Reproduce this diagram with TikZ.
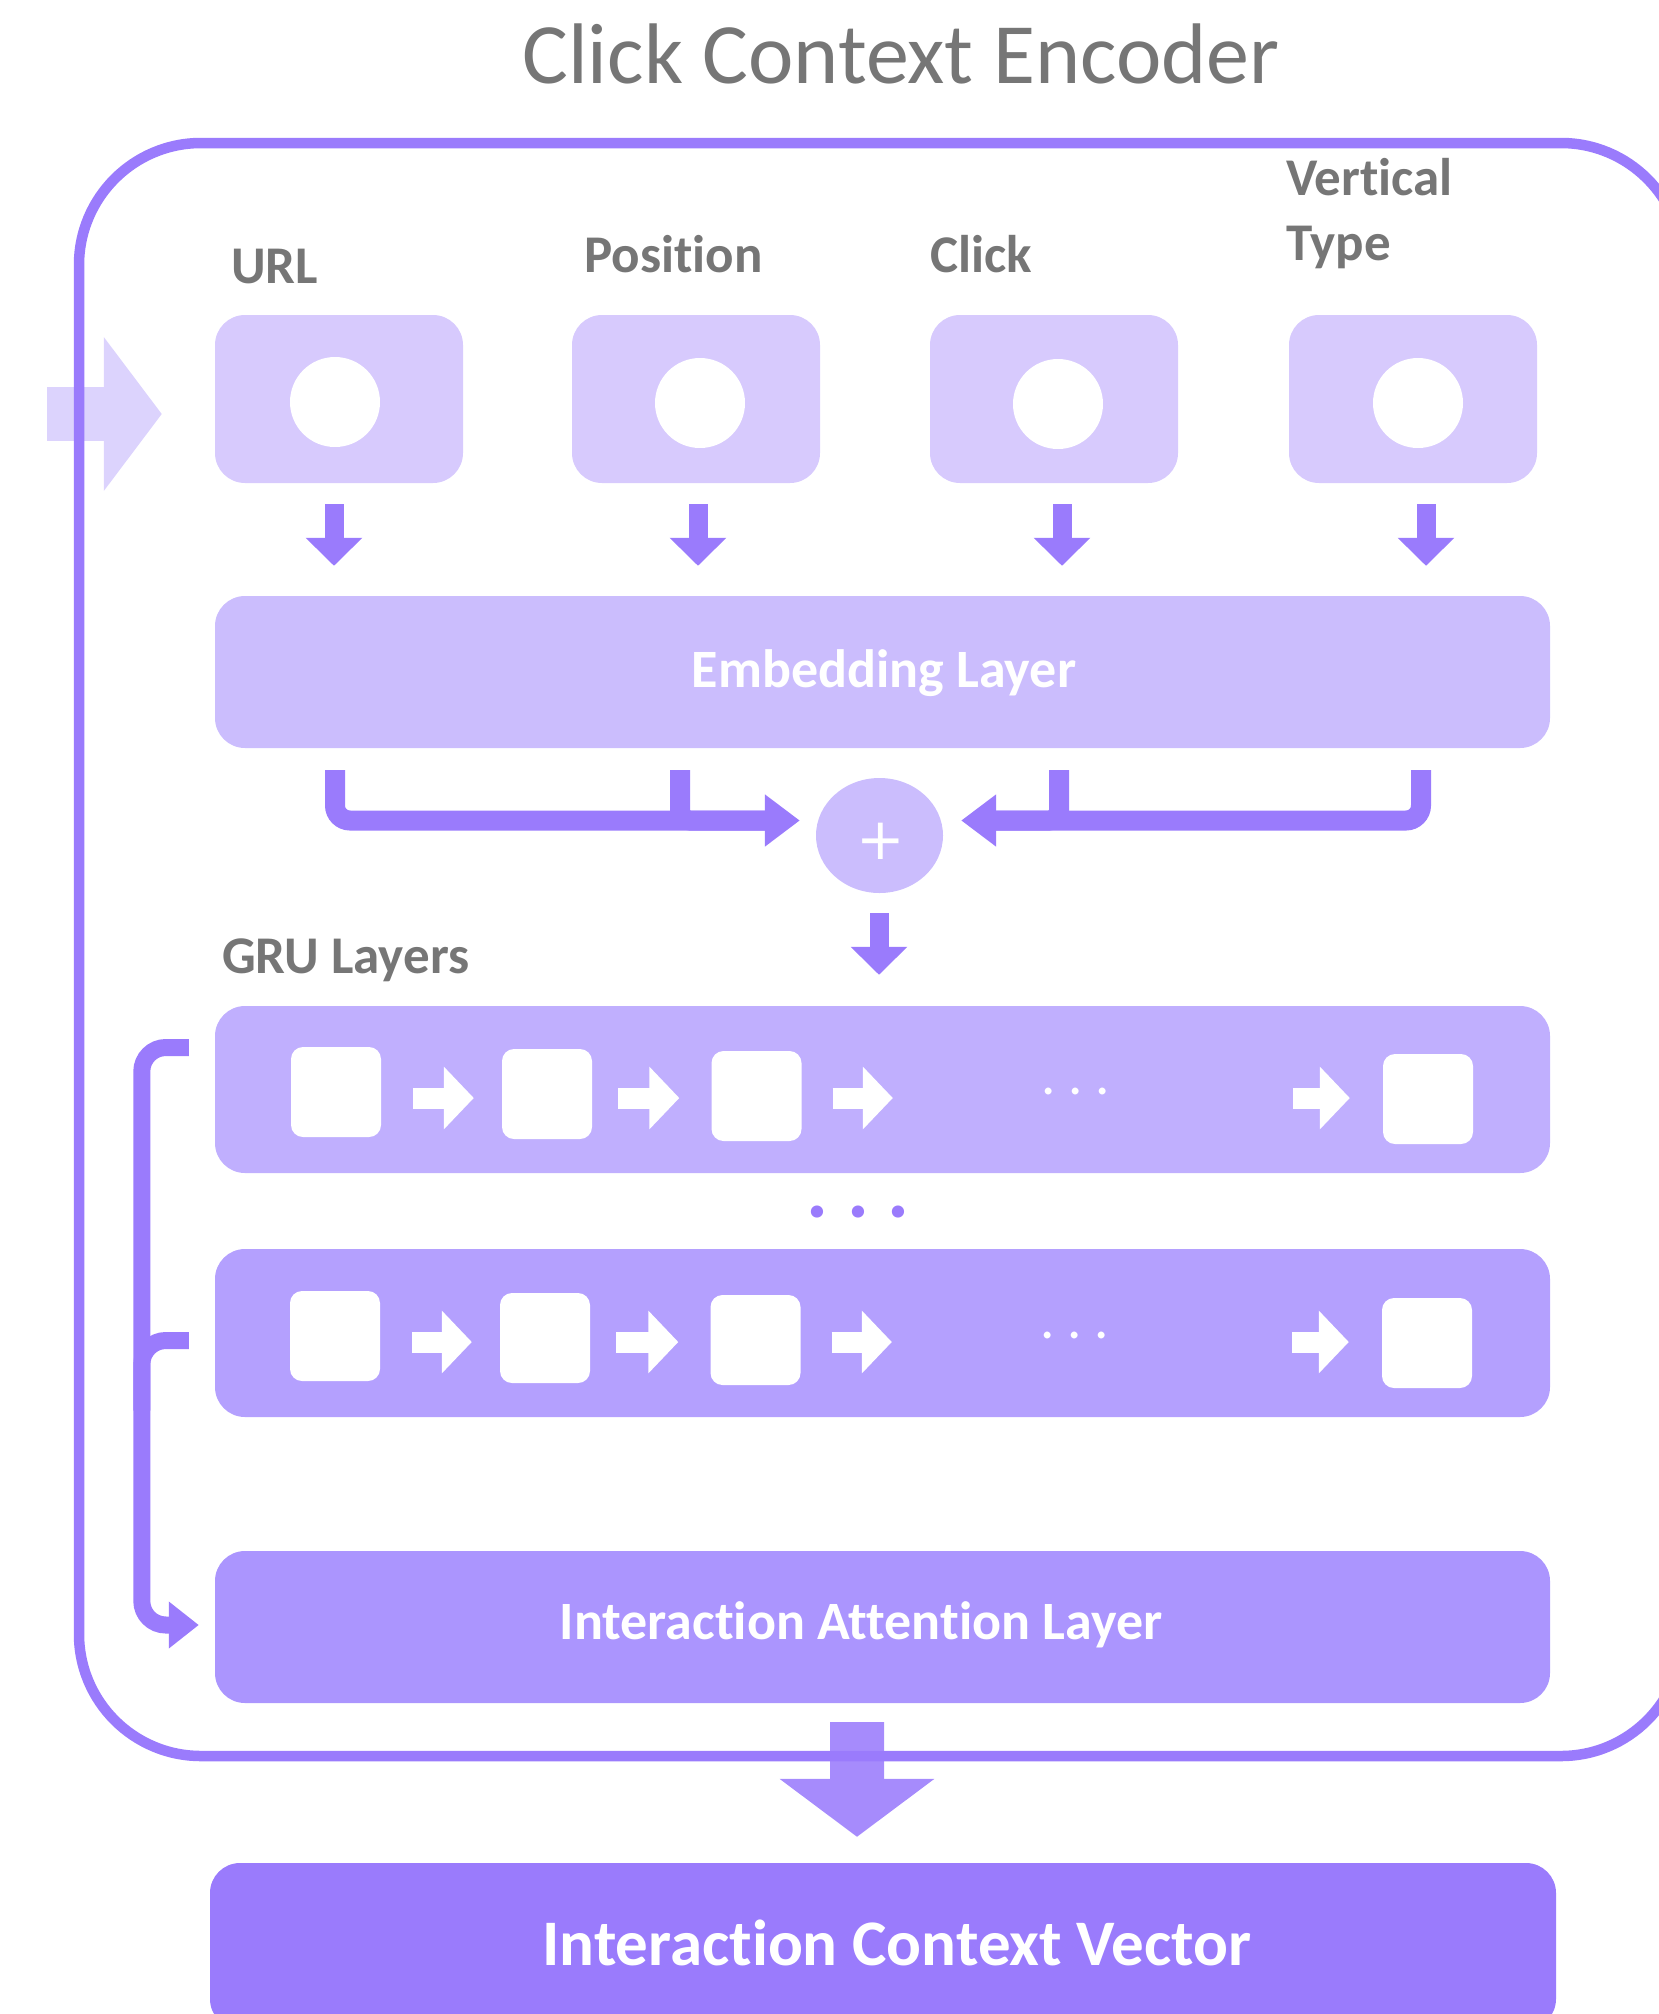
\documentclass[tikz,border=0pt]{standalone}
\usepackage{fontspec}
\setmainfont{Carlito}[Ligatures=NoCommon]
\newfontfamily\symfont{DejaVu Sans}
\usetikzlibrary{arrows.meta,shapes.geometric}

\definecolor{accent}{HTML}{9A7BFC}
\definecolor{inboxfill}{HTML}{D7CAFD}
\definecolor{embfill}{HTML}{CBBDFD}
\definecolor{gruafill}{HTML}{C0AFFE}
\definecolor{grubfill}{HTML}{B4A0FE}
\definecolor{attfill}{HTML}{AB95FE}
\definecolor{faint}{HTML}{DCD3FD}
\definecolor{inkgray}{HTML}{767676}

\newcommand\titlefont{\fontsize{86pt}{100pt}\selectfont}
\newcommand\fieldfont{\fontsize{53pt}{65pt}\selectfont\bfseries}
\newcommand\panelfont{\fontsize{54pt}{62pt}\selectfont\bfseries}
\newcommand\vectorfont{\fontsize{65pt}{75pt}\selectfont\bfseries}
\newcommand\dotsfont{\frenchspacing\fontsize{57pt}{60pt}\selectfont}
\newcommand\bigdotsfont{\frenchspacing\fontsize{82pt}{90pt}\selectfont\bfseries}

\tikzset{
  panel/.style={rounded corners=30pt, inner sep=0pt, minimum width=1335pt},
  paneltext/.style={text=white, font=\panelfont, inner sep=0pt},
  inputbox/.style={fill=inboxfill, rounded corners=30pt, inner sep=0pt,
    minimum width=248pt, minimum height=168pt},
  socket/.style={circle, fill=white, inner sep=0pt, minimum size=90pt},
  cell/.style={fill=white, rounded corners=12pt, inner sep=0pt,
    minimum width=90pt, minimum height=90pt},
  fieldname/.style={text=inkgray, font=\fieldfont, inner sep=0pt},
  feed/.style={draw=accent, line width=19pt, -{Triangle[width=55pt,length=28pt]}},
  mergearrow/.style={draw=accent, line width=20pt, rounded corners=15pt,
    -{Triangle[width=50pt,length=35pt]}},
  mergestub/.style={draw=accent, line width=20pt, rounded corners=10pt},
  hop/.style={draw=white, line width=21pt, -{Triangle[width=61pt,length=30pt]}},
  tap/.style={draw=accent, line width=17pt, rounded corners=24pt},
}

\begin{document}
\begin{tikzpicture}[x=1pt,y=-1pt]
\useasboundingbox (0,0) rectangle (1659,2014);
\clip (0,0) rectangle (1659,2014);

% title
\node[text=inkgray, font=\titlefont, inner sep=0pt, anchor=base] (title) at (901,83) {Click Context Encoder};

% input fields
\node[inputbox] (urlbox) at (339,399) {};
\node[inputbox] (posbox) at (696,399) {};
\node[inputbox] (clickbox) at (1054,399) {};
\node[inputbox] (vtbox) at (1413,399) {};
\node[socket] (urlsock) at (335,402) {};
\node[socket] (possock) at (700,403) {};
\node[socket] (clicksock) at (1058,404) {};
\node[socket] (vtsock) at (1418,403) {};

\node[fieldname, anchor=base west] (urllabel) at (231,283) {URL};
\node[fieldname, anchor=base west] (poslabel) at (584,272) {Position};
\node[fieldname, anchor=base west] (clicklabel) at (930,272) {Click};
\node[fieldname, anchor=base west, align=left] (vtlabel) at (1286,260) {Vertical\\Type};

% incoming arrow into the encoder
\coordinate (feedin) at (47,414);
\draw[faint, line width=54pt, -{Triangle[width=151pt,length=58pt]}, shorten >=53pt]
  (feedin) -- ([yshift=-15pt]urlbox.west);

% encoder frame
\node[draw=accent, line width=10.5pt, rounded corners=122pt, inner sep=0pt,
  minimum width=1604pt, minimum height=1613pt] (encoder) at (881,949.5) {};

% embedding layer
\node[panel, fill=embfill, minimum height=152pt] (emb) at (882.5,672) {};
\node[paneltext, anchor=base] (embtext) at (884,687) {Embedding Layer};

\draw[feed, shorten <=21pt, shorten >=30pt] ([xshift=-5pt]urlbox.south) -- ([xshift=-5pt]urlbox.south |- emb.north);
\draw[feed, shorten <=21pt, shorten >=30pt] ([xshift=2pt]posbox.south) -- ([xshift=2pt]posbox.south |- emb.north);
\draw[feed, shorten <=21pt, shorten >=30pt] ([xshift=8pt]clickbox.south) -- ([xshift=8pt]clickbox.south |- emb.north);
\draw[feed, shorten <=21pt, shorten >=30pt] ([xshift=13pt]vtbox.south) -- ([xshift=13pt]vtbox.south |- emb.north);

% sum of the embeddings
\node[ellipse, fill=embfill, inner sep=0pt, minimum width=127pt, minimum height=115pt] (plus) at (879.5,835.5) {};
\node[text=white, font=\symfont\fontsize{58pt}{60pt}\selectfont, inner sep=0pt] (plussign) at (881,841) {+};

\draw[mergestub, shorten <=22pt, shorten >=50pt] ([xshift=-202.5pt]emb.south) |- ([yshift=15pt]plus.west);
\draw[mergearrow, shorten <=22pt, shorten >=16pt] ([xshift=-547.5pt]emb.south) |- ([yshift=15pt]plus.west);
\draw[mergestub, shorten <=22pt, shorten >=50pt] ([xshift=176.5pt]emb.south) |- ([yshift=15pt]plus.east);
\draw[mergearrow, shorten <=22pt, shorten >=18pt] ([xshift=538.5pt]emb.south) |- ([yshift=15pt]plus.east);

% GRU layers
\node[fieldname, anchor=base west] (grulabel) at (222,973) {GRU Layers};
\node[panel, fill=gruafill, minimum height=167pt] (gru1) at (882.5,1089.5) {};
\node[panel, fill=grubfill, minimum height=168pt] (gru2) at (882.5,1333) {};

\draw[feed, shorten <=20pt, shorten >=31pt] ([xshift=-0.5pt]plus.south) -- ([xshift=-0.5pt]plus.south |- gru1.north);

% first GRU layer
\node[cell] (c11) at (336,1092) {};
\node[cell] (c12) at (547,1094) {};
\node[cell] (c13) at (756.5,1096) {};
\node[cell] (c14) at (1428,1099) {};
\node[text=white, font=\dotsfont, inner sep=0pt, anchor=base] (d1) at (1075.5,1094) {. . .};
\draw[hop, shorten <=32pt, shorten >=28pt] ([yshift=-6pt]c11.east) -- ([yshift=-6pt]c11.east -| c12.west);
\draw[hop, shorten <=26pt, shorten >=32pt] ([yshift=-4pt]c12.east) -- ([yshift=-4pt]c12.east -| c13.west);
\draw[hop, shorten <=31pt] ([yshift=-2pt]c13.east) -- ([yshift=-2pt,xshift=-148pt]c13.east -| d1.west);
\draw[hop, shorten >=33pt] ([yshift=-2pt,xshift=183pt]c13.east -| d1.east) -- ([yshift=-2pt]c13.east -| c14.west);

% layers in between
\node[text=accent, font=\bigdotsfont, inner sep=0pt, anchor=base] (dmid) at (858,1217) {. . .};

% last GRU layer
\node[cell] (c21) at (335,1336) {};
\node[cell] (c22) at (545,1338) {};
\node[cell] (c23) at (755.5,1340) {};
\node[cell] (c24) at (1427,1343) {};
\node[text=white, font=\dotsfont, inner sep=0pt, anchor=base] (d2) at (1074.5,1338) {. . .};
\draw[hop, shorten <=32pt, shorten >=28pt] ([yshift=-6pt]c21.east) -- ([yshift=-6pt]c21.east -| c22.west);
\draw[hop, shorten <=26pt, shorten >=32pt] ([yshift=-4pt]c22.east) -- ([yshift=-4pt]c22.east -| c23.west);
\draw[hop, shorten <=31pt] ([yshift=-2pt]c23.east) -- ([yshift=-2pt,xshift=-148pt]c23.east -| d2.west);
\draw[hop, shorten >=33pt] ([yshift=-2pt,xshift=183pt]c23.east -| d2.east) -- ([yshift=-2pt]c23.east -| c24.west);

% attention layer
\node[panel, fill=attfill, minimum height=152pt] (att) at (882.5,1627) {};
\node[paneltext, anchor=base] (atttext) at (861,1639) {Interaction Attention Layer};

% taps from the GRU layers into the attention layer
\draw[tap, -{Triangle[width=45pt,length=30pt]}, shorten >=16pt]
  ([xshift=-26pt,yshift=42pt]gru1.west) -- ++(-47,0) |- ([yshift=2pt]att.west);
\draw[tap] ([xshift=-26pt,yshift=-7.5pt]gru2.west) -- ++(-47,0) -- ++(0,70);

% output vector
\node[panel, fill=accent, minimum width=1346pt, minimum height=166pt] (vec) at (883,1946) {};
\node[text=white, font=\vectorfont, inner sep=0pt, anchor=base] (vectext) at (897,1965) {Interaction Context Vector};

\begin{scope}[transparency group, opacity=0.88]
\draw[accent, line width=54pt, -{Triangle[width=152pt,length=58pt]}, shorten <=19pt, shorten >=26pt]
  ([xshift=-25.5pt]att.south) -- ([xshift=-25.5pt]att.south |- vec.north);
\end{scope}
\end{tikzpicture}
\end{document}
